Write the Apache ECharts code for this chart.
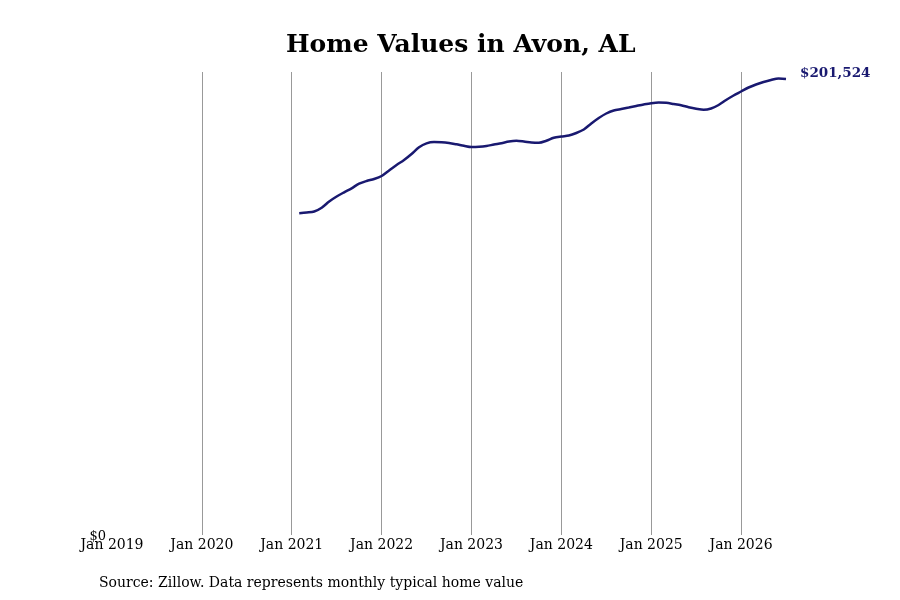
<!DOCTYPE html>
<html>
  <head>
      <meta charset="utf-8">
      <script src="https://cdn.jsdelivr.net/npm/echarts@6/dist/echarts.min.js"></script>
      <style>
        html, body { margin: 0; padding: 0; background: #fff; }
      </style>
  </head>

<body>
    <div id="main" style="width: 900px;height:600px;"></div>
    <script type="text/javascript">
        // monthly typical home value, Feb 2021 .. Jul 2026
        var months = [
            '2021-02','2021-03','2021-04','2021-05','2021-06','2021-07','2021-08','2021-09','2021-10','2021-11','2021-12',
            '2022-01','2022-02','2022-03','2022-04','2022-05','2022-06','2022-07','2022-08','2022-09','2022-10','2022-11','2022-12',
            '2023-01','2023-02','2023-03','2023-04','2023-05','2023-06','2023-07','2023-08','2023-09','2023-10','2023-11','2023-12',
            '2024-01','2024-02','2024-03','2024-04','2024-05','2024-06','2024-07','2024-08','2024-09','2024-10','2024-11','2024-12',
            '2025-01','2025-02','2025-03','2025-04','2025-05','2025-06','2025-07','2025-08','2025-09','2025-10','2025-11','2025-12',
            '2026-01','2026-02','2026-03','2026-04','2026-05','2026-06','2026-07'
        ];
        var values = [
            142200, 142510, 142950, 144630, 147370, 149580, 151440, 153210, 155240, 156430, 157320,
            158640, 161070, 163500, 165710, 168360, 171330, 173090, 173670, 173580, 173230, 172650, 171990,
            171460, 171550, 171900, 172560, 173140, 173890, 174200, 173890, 173450, 173310, 174200, 175520,
            176100, 176540, 177640, 179190, 181840, 184270, 186260, 187590, 188250, 188910, 189580, 190240,
            190810, 191120, 190990, 190460, 189880, 189050, 188380, 187900, 188470, 190020, 192230, 194220,
            195980, 197750, 199080, 200180, 201070, 201730, 201524
        ];
        var tickYears = [2019, 2020, 2021, 2022, 2023, 2024, 2025, 2026];
        var startYear = tickYears[0];

        var serif = '"DejaVu Serif", serif';

        // month offset from Jan 2019 for each point
        var points = months.map(function (m, i) {
            var p = m.split('-');
            return [(parseInt(p[0]) - startYear) * 12 + parseInt(p[1]) - 1, values[i]];
        });

        var myChart = echarts.init(document.getElementById('main'));
        myChart.setOption({
            animation: false,
            title: [
                {
                    text: 'Home Values in Avon, AL',
                    left: 286,
                    top: 33,
                    padding: 0,
                    textStyle: { fontFamily: serif, fontSize: 25, fontWeight: 'bold', color: '#000' }
                },
                {
                    text: 'Source: Zillow. Data represents monthly typical home value',
                    left: 99,
                    top: 576,
                    padding: 0,
                    textStyle: { fontFamily: serif, fontSize: 14, fontWeight: 'normal', color: '#000' }
                }
            ],
            grid: {
                left: 112,
                right: 114,
                top: 72,
                bottom: 65,
                containLabel: false
            },
            xAxis: {
                type: 'value',
                min: 0,
                max: 90,
                interval: 12,
                axisLine: { show: false },
                axisTick: { show: false },
                splitLine: {
                    show: true,
                    showMinLine: false,
                    showMaxLine: false,
                    lineStyle: { color: '#999', width: 1 }
                },
                axisLabel: {
                    fontFamily: serif,
                    fontSize: 14,
                    color: '#000',
                    margin: 3,
                    showMaxLabel: false,
                    formatter: function (v) {
                        var y = tickYears[v / 12];
                        return y ? 'Jan ' + y : '';
                    }
                }
            },
            yAxis: {
                type: 'value',
                min: 0,
                max: 204600,
                interval: 204600,
                axisLine: { show: false },
                axisTick: { show: false },
                splitLine: { show: false },
                axisLabel: {
                    fontFamily: serif,
                    fontSize: 13,
                    color: '#000',
                    margin: 6,
                    showMaxLabel: false,
                    formatter: function (v) { return v === 0 ? '{z|$0}' : ''; },
                    rich: {
                        z: { fontFamily: serif, fontSize: 13, color: '#000', padding: [4, 0, 0, 0] }
                    }
                }
            },
            series: [
                {
                    type: 'line',
                    data: points,
                    smooth: 0.3,
                    showSymbol: false,
                    lineStyle: { color: '#191970', width: 2.5 },
                    endLabel: {
                        show: true,
                        distance: 14,
                        offset: [0, -5],
                        fontFamily: serif,
                        fontSize: 13.5,
                        fontWeight: 'bold',
                        color: '#191970',
                        formatter: function (p) {
                            return '$' + p.value[1].toLocaleString('en-US');
                        }
                    }
                }
            ]
        });
    </script>
</body>

</html>
